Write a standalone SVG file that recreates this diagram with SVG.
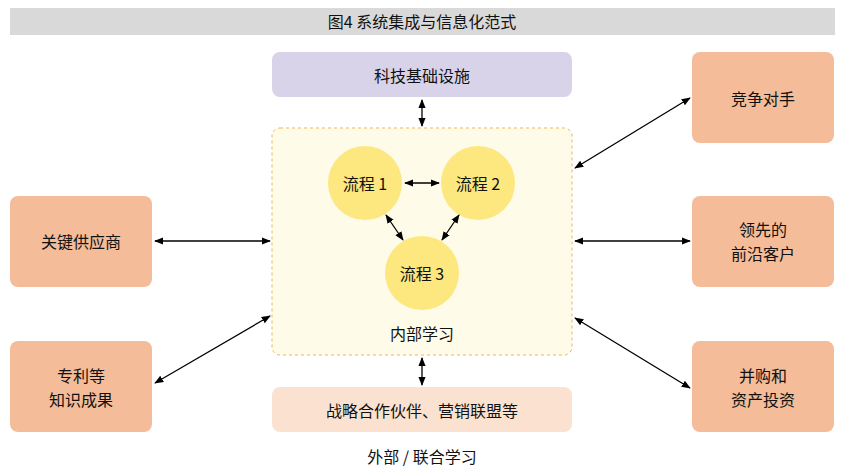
<svg xmlns="http://www.w3.org/2000/svg" width="841" height="474" viewBox="0 0 841 474">
<defs>
<marker id="a" viewBox="0 0 10 10" refX="9" refY="5" markerWidth="7" markerHeight="7" orient="auto-start-reverse"><path d="M0,1 L10,5 L0,9 z" fill="#000"/></marker>
</defs>
<style>
text{font-family:"Noto Sans CJK SC","Liberation Sans",sans-serif;font-size:16px;fill:#111;text-anchor:middle;dominant-baseline:central}
.side{fill:#f4bc98}
.c{fill:#fde77f}
.l{stroke:#000;stroke-width:1.3;fill:none;marker-start:url(#a);marker-end:url(#a)}
</style>
<rect x="10" y="8" width="825" height="27" fill="#d9d9d9"/>
<text x="422" y="21" font-size="17">图4 系统集成与信息化范式</text>
<g id="top"><rect x="272" y="52" width="300" height="45" rx="8" fill="#d9d3e9"/><text x="422" y="75">科技基础设施</text></g>
<g id="internal"><rect x="272" y="128" width="300" height="227" rx="8" fill="#fefbe8" stroke="#e8b860" stroke-dasharray="3,3"/><text x="422" y="333">内部学习</text></g>
<g id="p1"><circle cx="365" cy="183" r="37" class="c"/><text x="365" y="183">流程 1</text></g>
<g id="p2"><circle cx="478" cy="183" r="37" class="c"/><text x="478" y="183">流程 2</text></g>
<g id="p3"><circle cx="422" cy="273" r="37" class="c"/><text x="422" y="273">流程 3</text></g>
<g id="bottom"><rect x="272" y="387" width="300" height="45" rx="8" fill="#fbe2d0"/><text x="422" y="410">战略合作伙伴、营销联盟等</text></g>
<text x="422" y="456">外部 / 联合学习</text>
<g id="supplier"><rect x="10" y="196" width="142" height="91" rx="8" class="side"/><text x="81" y="241">关键供应商</text></g>
<g id="patent"><rect x="10" y="341" width="142" height="91" rx="8" class="side"/><text x="81" y="375">专利等</text><text x="81" y="399">知识成果</text></g>
<g id="competitor"><rect x="692" y="52" width="142" height="91" rx="8" class="side"/><text x="763" y="98">竞争对手</text></g>
<g id="customer"><rect x="692" y="196" width="142" height="91" rx="8" class="side"/><text x="763" y="229">领先的</text><text x="763" y="253">前沿客户</text></g>
<g id="ma"><rect x="692" y="341" width="142" height="91" rx="8" class="side"/><text x="763" y="375">并购和</text><text x="763" y="399">资产投资</text></g>
<g id="connectors">
<line class="l" x1="422" y1="100" x2="422" y2="126"/>
<line class="l" x1="422" y1="358" x2="422" y2="385"/>
<line class="l" x1="155" y1="241" x2="270" y2="241"/>
<line class="l" x1="155" y1="383" x2="270" y2="316"/>
<line class="l" x1="575" y1="168" x2="690" y2="98"/>
<line class="l" x1="575" y1="241" x2="690" y2="241"/>
<line class="l" x1="575" y1="318" x2="690" y2="388"/>
<line class="l" x1="405" y1="183" x2="439" y2="183"/>
<line class="l" x1="386" y1="215" x2="403" y2="240"/>
<line class="l" x1="459" y1="215" x2="442" y2="240"/>
</g>
</svg>
